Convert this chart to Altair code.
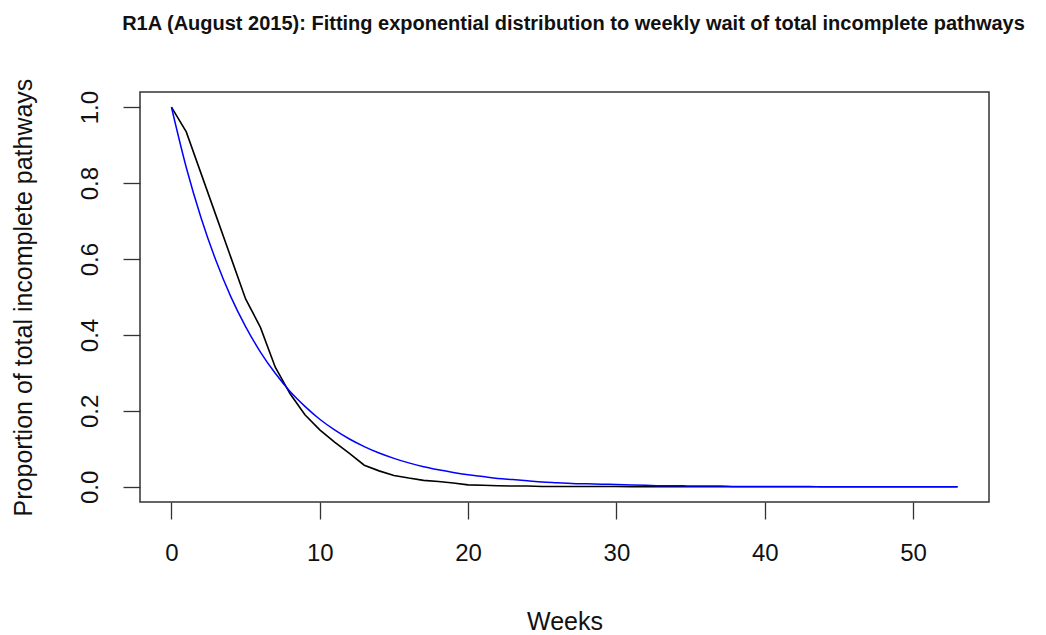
import altair as alt
import pandas as pd

# Weekly waiting-time profile (proportion of pathways still waiting after each week)
weeks = list(range(54))
observed = [
    1.000, 0.935, 0.825, 0.715, 0.605, 0.495, 0.420, 0.315, 0.245, 0.190,
    0.150, 0.118, 0.088, 0.057, 0.042, 0.030, 0.023, 0.017, 0.014, 0.010,
    0.005, 0.004, 0.003, 0.002, 0.002, 0.001, 0.001, 0.001, 0.001, 0.001,
    0.001, 0.000, 0.000, 0.000, 0.000, 0.000, 0.000, 0.000, 0.000, 0.000,
    0.000, 0.000, 0.000, 0.000, 0.000, 0.000, 0.000, 0.000, 0.000, 0.000,
    0.000, 0.000, 0.000, 0.000,
]
# Fitted exponential survival curve
fitted = [
    1.000, 0.841, 0.708, 0.596, 0.501, 0.422, 0.355, 0.299, 0.251, 0.212,
    0.178, 0.150, 0.126, 0.106, 0.089, 0.075, 0.063, 0.053, 0.045, 0.038,
    0.032, 0.027, 0.022, 0.019, 0.016, 0.013, 0.011, 0.009, 0.008, 0.007,
    0.006, 0.005, 0.004, 0.003, 0.003, 0.002, 0.002, 0.002, 0.001, 0.001,
    0.001, 0.001, 0.001, 0.001, 0.000, 0.000, 0.000, 0.000, 0.000, 0.000,
    0.000, 0.000, 0.000, 0.000,
]

x_ticks = [0, 10, 20, 30, 40, 50]
y_ticks = [0.0, 0.2, 0.4, 0.6, 0.8, 1.0]

FONT = "Liberation Sans"

obs_df = pd.DataFrame({"week": weeks, "prop": observed})
fit_df = pd.DataFrame({"week": weeks, "prop": fitted})

x_enc = alt.X(
    "week:Q",
    scale=alt.Scale(domain=[-2.12, 55.12], nice=False, zero=False),
    axis=alt.Axis(
        title="Weeks",
        values=x_ticks,
        format="d",
        grid=False,
        domain=False,
        tickSize=17,
        tickColor="#333333",
        tickWidth=1.3,
        labelFontSize=24,
        labelFont=FONT,
        labelColor="#111111",
        labelPadding=22,
        labelFlush=False,
        labelOverlap=False,
        titleFont=FONT,
        titleFontSize=25,
        titleFontWeight="normal",
        titleColor="#111111",
        titleBaseline="alphabetic",
        titleY=127,
    ),
)
y_enc = alt.Y(
    "prop:Q",
    scale=alt.Scale(domain=[-0.04, 1.04], nice=False, zero=False),
    axis=alt.Axis(
        title="Proportion of total incomplete pathways",
        values=y_ticks,
        format=".1f",
        grid=False,
        domain=False,
        tickSize=17,
        tickColor="#333333",
        tickWidth=1.3,
        labelFontSize=24,
        labelFont=FONT,
        labelColor="#111111",
        labelAngle=270,
        labelAlign="center",
        labelBaseline="alphabetic",
        labelPadding=26,
        labelFlush=False,
        labelOverlap=False,
        titleFont=FONT,
        titleFontSize=25,
        titleFontWeight="normal",
        titleColor="#111111",
        titleAngle=270,
        titleAlign="center",
        titleBaseline="alphabetic",
        titleX=-109,
        titleY=205,
    ),
)

observed_line = alt.Chart(obs_df).mark_line(
    color="black", strokeWidth=1.6
).encode(x=x_enc, y=y_enc)

fitted_line = alt.Chart(fit_df).mark_line(
    color="#0000ff", strokeWidth=1.5, interpolate="monotone"
).encode(x="week:Q", y="prop:Q")

chart = (
    alt.layer(observed_line, fitted_line)
    .properties(
        width=849,
        height=410,
        background="white",
        padding={"left": 140, "top": 92, "right": 57, "bottom": 133},
        autosize=alt.AutoSizeParams(type="none"),
        title=alt.TitleParams(
            "R1A (August 2015): Fitting exponential distribution to weekly wait of total incomplete pathways",
            font=FONT,
            fontSize=20,
            fontWeight="bold",
            color="#111111",
            anchor="middle",
            frame="group",
            offset=44,
            dx=9,
        ),
    )
    .configure_view(stroke="#333333", strokeWidth=1.5)
)

chart.save("out.html", embed_options={"renderer": "svg", "actions": False})
